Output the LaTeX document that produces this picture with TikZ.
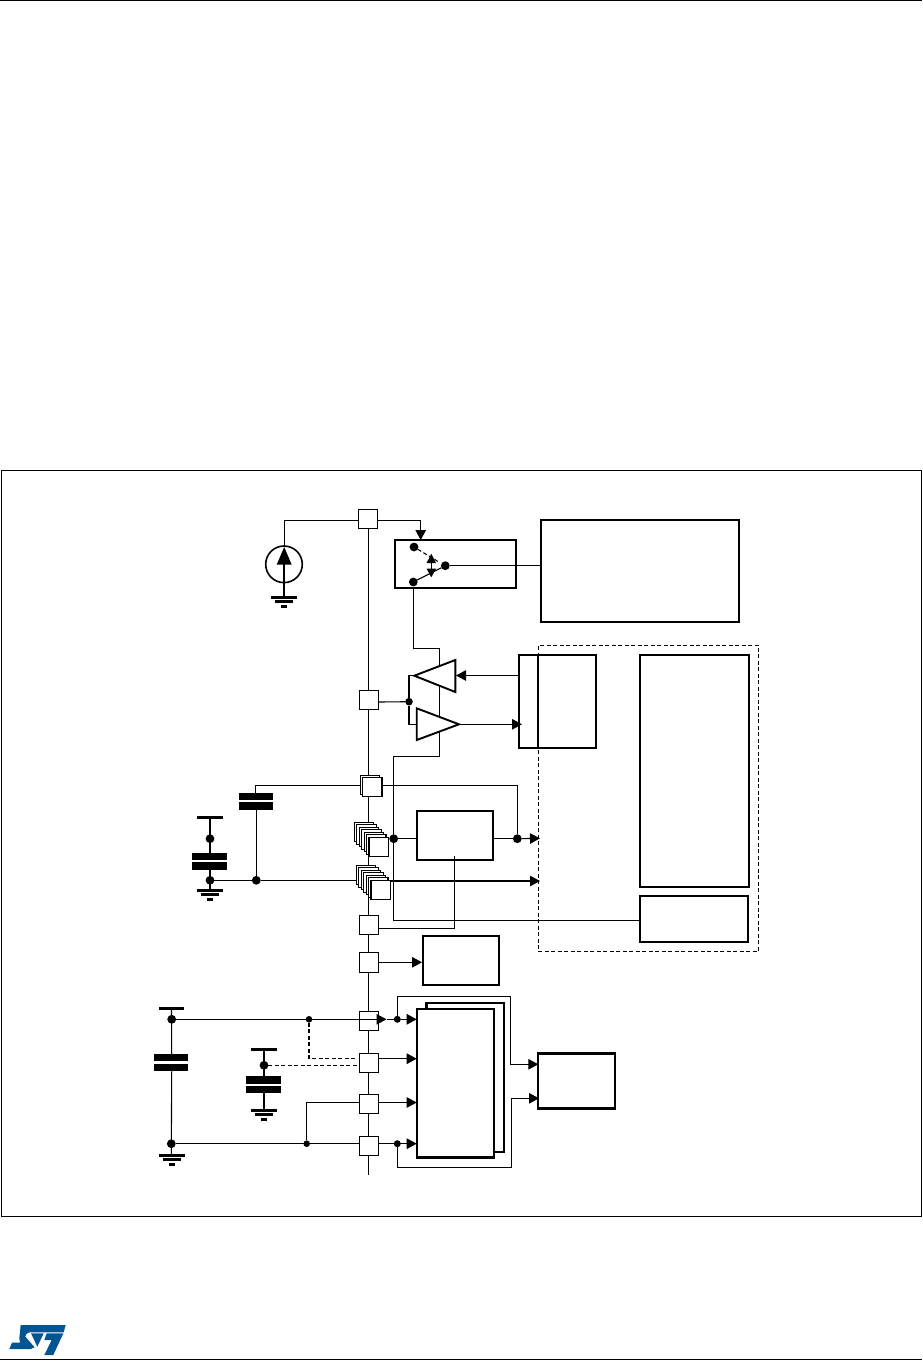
\documentclass[tikz,border=0pt]{standalone}
\usetikzlibrary{arrows.meta,calc}
\pgfdeclarelayer{bg}
\pgfsetlayers{bg,main}
\definecolor{stblue}{RGB}{3,84,146}
\tikzset{
  conn/.style={line width=1.1pt,line join=miter},
  dashconn/.style={line width=1.1pt,dash pattern=on 4pt off 2.5pt},
  arr/.style={conn,-{Triangle[length=10pt,width=10.5pt]}},
  pinbox/.style={draw,fill=white,line width=1.1pt,minimum width=19.4pt,minimum height=19.4pt,inner sep=0pt,outer sep=0pt},
  heavy/.style={draw,fill=white,line width=2.3pt,inner sep=0pt,outer sep=0pt},
  dashbox/.style={draw,line width=1.1pt,dash pattern=on 4pt off 2.5pt,inner sep=0pt,outer sep=0pt},
  bigdot/.style={circle,fill=black,minimum size=8.8pt,inner sep=0pt,outer sep=0pt},
  smalldot/.style={circle,fill=black,minimum size=6.6pt,inner sep=0pt,outer sep=0pt},
  plate/.style={fill=black,inner sep=0pt,outer sep=0pt,minimum height=7.5pt},
  rail/.style={fill=black,inner sep=0pt,outer sep=0pt,minimum height=3pt},
  gndsym/.pic={
    \fill (-13,-1.5) rectangle (13,1.5);
    \fill (-9,3) rectangle (9,6);
    \fill (-3,8) rectangle (3,11);
  },
}
\begin{document}
\begin{tikzpicture}[x=1pt,y=-1pt]
\useasboundingbox (0,0) rectangle (922,1361);
% page rules and frame
\coordinate (rtl) at (0,0.8); \coordinate (rtr) at (922,0.8);
\coordinate (rbl) at (0,1359.8); \coordinate (rbr) at (922,1359.8);
\draw[line width=1.2pt] (rtl) -- (rtr);
\draw[line width=1.2pt] (rbl) -- (rbr);
\node[draw,line width=1.2pt,inner sep=0pt,outer sep=0pt,minimum width=920.2pt,minimum height=746.4pt] (frame) at (461.5,843.5) {};

% dashed region
\node[dashbox,minimum width=220.4pt,minimum height=306pt] (region) at (648.5,798.3) {};

% boxes
\node[heavy,minimum width=121.3pt,minimum height=48pt] (switchbox) at (455.6,564) {};
\node[heavy,minimum width=198pt,minimum height=102pt] (bigbox) at (640,571) {};
\node[heavy,minimum width=77.3pt,minimum height=93.3pt] (adcbox) at (557.4,701.3) {};
\node[fill=black,inner sep=0pt,outer sep=0pt,minimum width=2.2pt,minimum height=93.3pt] (adcdiv) at (538,701.3) {};
\node[heavy,minimum width=109pt,minimum height=232.3pt] (tallbox) at (694.5,770.8) {};
\node[heavy,minimum width=108pt,minimum height=46pt] (lowbox) at (694,919) {};
\node[heavy,minimum width=76.6pt,minimum height=49pt] (regbox) at (455,835.5) {};
\node[heavy,minimum width=76.6pt,minimum height=49pt] (sidebox) at (461,960.2) {};
\node[heavy,line width=2.6pt,minimum width=77.3pt,minimum height=149pt] (backbox) at (465.3,1077.5) {};
\node[heavy,line width=2.6pt,minimum width=77pt,minimum height=148.7pt] (frontbox) at (455.5,1083.3) {};
\node[heavy,line width=2.6pt,minimum width=77pt,minimum height=55.4pt] (mixbox) at (576.5,1081) {};

% pins
\node[pinbox] (pa) at (368,519) {};
\node[pinbox] (pb) at (369,700) {};
\node[pinbox] (pc0) at (370,785) {};
\node[pinbox] (pc) at (372.3,786.8) {};
\foreach \i in {0,...,6}{
  \node[pinbox] (sa\i) at ({364+2.45*\i},{832+2.5*\i}) {};
}
\foreach \i in {0,...,6}{
  \node[pinbox] (sb\i) at ({366+2.45*\i},{875+2.5*\i}) {};
}
\node[pinbox] (pd) at (369,925) {};
\node[pinbox] (pe) at (369,962.5) {};
\node[pinbox] (pf) at (369,1021) {};
\node[pinbox] (pg) at (369,1063) {};
\node[pinbox] (ph) at (369,1104) {};
\node[pinbox] (pi) at (369,1146) {};

% current source
\node[draw,circle,line width=1.6pt,minimum size=36.6pt,inner sep=0pt,outer sep=0pt] (src) at (284,564.3) {};

% amplifiers
\coordinate (ampUapex) at (414.3,675.7);
\coordinate (ampUtop) at (455.3,660);
\coordinate (ampUbot) at (455.3,692);
\coordinate (ampLapex) at (459,724.3);
\coordinate (ampLtop) at (416.7,708.3);
\coordinate (ampLbot) at (416.7,740);
\coordinate (ampUin) at (455.3,675.7);
\coordinate (ampLin) at (416.7,724.3);
\draw[line width=1.9pt,fill=white,line join=miter] (ampUapex) -- (ampUtop) -- (ampUbot) -- cycle;
\draw[line width=1.9pt,fill=white,line join=miter] (ampLapex) -- (ampLtop) -- (ampLbot) -- cycle;

% capacitor plates and rails
\node[plate,minimum width=34pt] (c1a) at (256,796.5) {};
\node[plate,minimum width=34pt] (c1b) at (256,806) {};
\node[rail,minimum width=26pt] (c2t) at (210,817.3) {};
\node[plate,minimum width=35pt] (c2a) at (209.5,856.5) {};
\node[plate,minimum width=35pt] (c2b) at (209.5,866) {};
\node[rail,minimum width=25pt] (c3t) at (171.5,1008.3) {};
\node[plate,minimum width=34pt] (c3a) at (171,1057.7) {};
\node[plate,minimum width=34pt] (c3b) at (171,1067.7) {};
\node[rail,minimum width=26pt] (c4t) at (264,1049.3) {};
\node[plate,minimum width=35pt] (c4a) at (263.5,1080) {};
\node[plate,minimum width=35pt] (c4b) at (263.5,1089.7) {};

% dots
\node[bigdot] (dsw1) at (414,547) {};
\node[bigdot] (dsw2) at (413.3,582) {};
\node[bigdot] (dsw3) at (445.3,565.7) {};
\node[bigdot,minimum size=7.6pt] (damp) at (409,701.7) {};
\node[bigdot] (dreg) at (393.7,838.7) {};
\node[bigdot] (dout) at (517.3,838.7) {};
\node[bigdot] (dc2t) at (210,838.7) {};
\node[bigdot] (dc2b) at (210,880.3) {};
\node[bigdot] (dc1) at (256.3,880.3) {};
\node[bigdot] (dc3t) at (171.7,1019.3) {};
\node[bigdot] (dc3b) at (171.3,1143.7) {};
\node[smalldot] (dvt) at (309,1019.3) {};
\node[smalldot] (dvb) at (306.7,1143.7) {};
\node[bigdot] (dc4) at (264,1065.3) {};
\node[smalldot,minimum size=7pt] (dft) at (397.3,1019.3) {};
\node[smalldot,minimum size=7pt] (dfb) at (397.3,1143.7) {};

% free ends and bends
\coordinate (busend) at (368.3,1175);
\coordinate (buspa) at (368.3,528.7);
\coordinate (srcN) at (284.3,520.3);
\coordinate (paL) at (358.3,520.3);
\coordinate (paR) at (377.7,520.3);
\coordinate (swIn) at (420.7,540);
\coordinate (gndA) at (284,596);
\coordinate (swDash) at (440,562.7);
\coordinate (bigL) at (540,565.7);
\coordinate (amparrL) at (456,675.5);
\coordinate (adcL) at (518.7,675.5);
\coordinate (adcIn) at (522,724.3);
\coordinate (pbR) at (378.7,702);
\coordinate (r1) at (439.3,648.3);
\coordinate (r2) at (439.3,756.7);
\coordinate (r3) at (393.3,756.7);
\coordinate (r4) at (393.3,920.3);
\coordinate (lowL) at (640,920.3);
\coordinate (c1top) at (255.3,785.3);
\coordinate (pcR) at (382,785.3);
\coordinate (r5) at (517.3,785.3);
\coordinate (regL) at (416.7,838.7);
\coordinate (regR) at (493.3,838.7);
\coordinate (arrA) at (540,838.3);
\coordinate (stB) at (372,881);
\coordinate (arrB) at (540,881);
\coordinate (regIn) at (454.3,856);
\coordinate (pdR) at (378.7,928.3);
\coordinate (peR) at (378.7,962.3);
\coordinate (sideL) at (422,962.3);
\coordinate (fIn) at (416.7,1019.3);
\coordinate (fOut) at (386.5,1019.3);
\coordinate (pgIn) at (416.7,1058.7);
\coordinate (pgR) at (378.7,1058.7);
\coordinate (phIn) at (416.7,1102.5);
\coordinate (phR) at (378.7,1102.5);
\coordinate (phL) at (359.3,1102.5);
\coordinate (piIn) at (416.7,1143.7);
\coordinate (gndC) at (171.3,1155.3);
\coordinate (gndB) at (210,890.3);
\coordinate (gndD) at (264,1110);
\coordinate (dashL) at (356.7,1058.3);
\coordinate (pgdash) at (359.3,1065.3);
\coordinate (mixA) at (538.3,1064.3);
\coordinate (mixB) at (539,1098.3);
\coordinate (loopA1) at (397.3,996.3);
\coordinate (loopA2) at (510.7,996.3);
\coordinate (loopB1) at (397.3,1167.3);
\coordinate (loopB2) at (511.7,1167.3);

\begin{pgfonlayer}{bg}
  % supply bus behind the pins
  \draw[conn] (buspa) -- (busend);
  % lines that the amplifiers and the stacked pins cover
  \draw[conn] (dsw2) |- (r1) -- (r2) -- (r3) -- (r4) -- (lowL);
  \draw[conn] (c1top) -- (pcR) -- (r5) -- (dout);
  \draw[conn] (c1top) -- (c1a.north -| c1top);
  \draw[conn] (c1b.south -| dc1) -- (dc1);
  \draw[conn] (dc2b) -- (dc1) -- (dc1 -| stB);
  \draw[arr] (stB) -- (arrB);
  \draw[conn] (dreg) -- (regL);
  \draw[conn] (c2t) -- (c2a.north -| c2t);
  \draw[conn] (c2b.south -| c2t) -- (gndB);
  \draw[conn] (c3t) -- (c3a.north -| dc3t);
  \draw[conn] (c3b.south -| dc3t) -- (gndC);
  \draw[conn] (c4t) -- (c4a.north -| dc4);
  \draw[conn] (c4b.south -| dc4) -- (gndD);
  \draw[conn] (dc3b) -- (piIn);
  \draw[conn] (dvb) |- (phL);
  \draw[dashconn] (dvt) |- (dashL);
  \draw[dashconn] (dc4) -- (pgdash);
\end{pgfonlayer}

% connectors on top
\draw[conn] (src.north -| srcN) -- (srcN) -- (paL);
\draw[arr] (paR) -| (swIn);
\draw[conn] (gndA) -- (src.center);
\draw[conn] (dsw3) -- (bigL);
\draw[dashconn] (dsw1) -- (swDash);
\draw[conn] (dsw2) -- (dsw3);
\draw[conn] (431.3,558) -- (431.3,573);
\fill (431.3,553.7) -- (436,563) -- (426.6,563) -- cycle;
\fill (431.3,577.3) -- (436,568.7) -- (426.6,568.7) -- cycle;
\fill (284.2,547) -- (291.7,564.7) -- (276.7,564.7) -- cycle;
\pic at (284,597) {gndsym};
\pic at (210,890.3) {gndsym};
\pic at (171.5,1155.3) {gndsym};
\pic at (264,1110) {gndsym};
\draw[arr] (adcL) -- (amparrL);
\draw[arr] (ampLapex) -- (adcIn);
\draw[conn] (pbR) -- (damp);
\draw[conn] (ampUapex) -| (damp) |- (ampLin);
\draw[arr] (dout) -- (arrA);
\draw[conn] (regR) -- (dout);
\draw[conn] (regIn) |- (pdR);
\draw[arr] (peR) -- (sideL);
\draw[conn] (dc3t) -- (dvt);
\draw[arr] (dvt) -- (fOut);
\draw[conn] (fOut) -- (dft);
\draw[arr] (dft) -- (fIn);
\draw[arr] (pgR) -- (pgIn);
\draw[arr] (phR) -- (phIn);
\draw[arr] (dfb) -- (piIn);
\draw[conn] (dft) -- (loopA1) -- (loopA2) |- (mixA);
\draw[arr] (loopA2 |- mixA) -- (mixA);
\draw[conn] (dfb) -- (loopB1) -- (loopB2) |- (mixB);
\draw[arr] (loopB2 |- mixB) -- (mixB);

% logo
\begin{scope}[shift={(0,1300)},x=0.3333pt,y=-0.3333pt]
  \fill[stblue] (62,75) -- (197,75) -- (191,97) -- (88,97) -- (79,102) -- (76,110) -- (104,142) -- (92,147) -- (28,147) -- (36,128) -- (60,128) -- (58,115) -- cycle;
  \fill[stblue] (93,100) -- (131,100) -- (112,140) -- cycle;
  \fill[stblue] (140,100) -- (190,100) -- (160,165) -- (133,165) -- (155,120) -- (133,120) -- cycle;
\end{scope}
\end{tikzpicture}
\end{document}
